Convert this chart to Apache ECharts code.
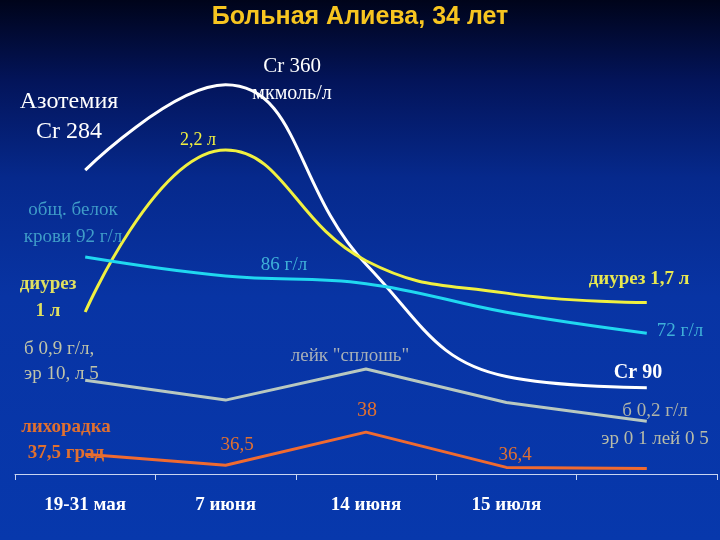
<!DOCTYPE html>
<html>
<head>
<meta charset="utf-8">
<script src="https://cdn.jsdelivr.net/npm/echarts@6/dist/echarts.min.js"></script>
<style>
  html, body { margin: 0; padding: 0; }
  #chart {
    width: 720px;
    height: 540px;
    background: linear-gradient(to bottom, #00041a 0%, #03145a 15%, #06298c 33%, #0834a4 55%, #0738ac 100%);
  }
</style>
</head>
<body>
<div id="chart"></div>
<script>
const categories = ['19-31 мая', '7 июня', '14 июня', '15 июля', '']

// креатинин, мкмоль/л
const creatinine = [284, 360, 200, 100, 90]
// диурез, л
const diuresis = [1.0, 2.2, 1.38, 1.14, 1.07]
// общий белок крови, г/л
const protein = [92, 87, 85, 77.5, 72]
// белок в моче, г/л
const urine = [0.9, 0.56, 1.09, 0.52, 0.2]
// температура, град
const temperature = [37.0, 36.5, 38, 36.4, 36.35]

const serif = '"Liberation Serif", "DejaVu Serif", serif'

// подписи на поле графика
const notes = [
  { text: 'Азотемия\nCr 284', x: 69, y: 117, color: '#ffffff', size: 24, lh: 30 },
  { text: 'Cr 360', x: 292, y: 66, color: '#ffffff', size: 21 },
  { text: 'мкмоль/л', x: 292, y: 94, color: '#ffffff', size: 20 },
  { text: '2,2 л', x: 198, y: 140, color: '#f0f040', size: 18 },
  { text: 'общ. белок\nкрови 92 г/л', x: 73, y: 224, color: '#3f9cc8', size: 19, lh: 27 },
  { text: '86 г/л', x: 284, y: 265, color: '#3fb0d8', size: 19 },
  { text: 'диурез\n1 л', x: 48, y: 298, color: '#e0e060', size: 19, lh: 27, bold: true },
  { text: 'диурез 1,7 л', x: 639, y: 279, color: '#e8e850', size: 19, bold: true },
  { text: '72 г/л', x: 680, y: 331, color: '#3fb0d8', size: 19 },
  { text: 'б 0,9 г/л,\nэр 10, л 5', x: 64, y: 362, color: '#c0c4a8', size: 19, lh: 25, align: 'left', left: 24 },
  { text: 'лейк "сплошь"', x: 350, y: 356, color: '#a8b0b8', size: 19 },
  { text: 'Cr 90', x: 638, y: 373, color: '#ffffff', size: 20, bold: true },
  { text: 'б 0,2 г/л', x: 655, y: 411, color: '#b0b4a8', size: 19 },
  { text: 'эр 0 1 лей 0 5', x: 655, y: 439, color: '#b8bca8', size: 19 },
  { text: 'лихорадка\n37,5 град', x: 66, y: 440, color: '#e07030', size: 19, lh: 26, bold: true },
  { text: '36,5', x: 237, y: 445, color: '#e07030', size: 19 },
  { text: '38', x: 367, y: 411, color: '#e07030', size: 20 },
  { text: '36,4', x: 515, y: 455, color: '#e07030', size: 19 }
]

const chartDom = document.getElementById('chart')
const chart = echarts.init(chartDom, null, { renderer: 'canvas' })

const hiddenAxis = (min, max) => ({
  type: 'value',
  show: false,
  min: min,
  max: max,
  splitLine: { show: false }
})

const lineSeries = (name, data, axis, color, smooth) => ({
  name: name,
  type: 'line',
  yAxisIndex: axis,
  data: data,
  smooth: smooth,
  symbol: 'none',
  lineStyle: { color: color, width: 3 },
  z: 3
})

const option = {
  backgroundColor: 'transparent',
  animation: false,
  title: {
    text: 'Больная Алиева, 34 лет',
    left: 'center',
    top: 0,
    textStyle: {
      color: '#f7c520',
      fontSize: 25,
      fontWeight: 'bold',
      fontFamily: '"Liberation Sans", Arial, sans-serif'
    }
  },
  grid: {
    left: 15,
    right: 3,
    top: 40,
    bottom: 66
  },
  xAxis: {
    type: 'category',
    data: categories,
    boundaryGap: true,
    axisLine: { onZero: false, lineStyle: { color: '#c8d4f0', width: 1 } },
    axisTick: { show: true, length: 6, lineStyle: { color: '#c8d4f0' } },
    axisLabel: {
      color: '#ffffff',
      fontSize: 19,
      fontWeight: 'bold',
      fontFamily: serif,
      margin: 22
    },
    splitLine: { show: false }
  },
  yAxis: [
    hiddenAxis(13, 400),
    hiddenAxis(-0.2, 3.015),
    hiddenAxis(35, 149),
    hiddenAxis(-0.7, 6.7),
    hiddenAxis(36.1, 55.8)
  ],
  series: [
    lineSeries('Креатинин', creatinine, 0, '#ffffff', 0.45),
    lineSeries('Диурез', diuresis, 1, '#f0f040', 0.45),
    lineSeries('Общий белок', protein, 2, '#20d8f0', 0.4),
    lineSeries('Белок в моче', urine, 3, '#b8c8c0', false),
    lineSeries('Температура', temperature, 4, '#f06a30', false)
  ],
  graphic: notes.map(n => ({
    type: 'text',
    x: n.align === 'left' ? n.left : n.x,
    y: n.y,
    z: 10,
    style: {
      text: n.text,
      fill: n.color,
      font: (n.bold ? 'bold ' : '') + n.size + 'px ' + serif,
      lineHeight: n.lh || n.size * 1.2,
      textAlign: n.align || 'center',
      align: n.align || 'center',
      textVerticalAlign: 'middle',
      verticalAlign: 'middle'
    }
  }))
}

chart.setOption(option)

window.addEventListener('resize', () => {
  chart.resize()
})
</script>
</body>
</html>
